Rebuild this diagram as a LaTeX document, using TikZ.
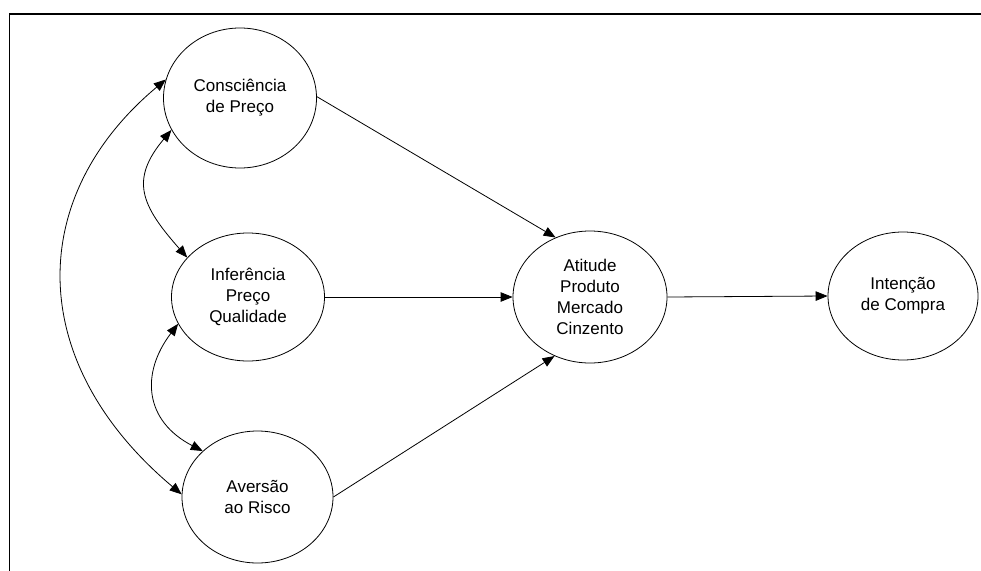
\documentclass[tikz,border=0pt]{standalone}
\usepackage{fontspec}
\setmainfont{Liberation Sans}
\usetikzlibrary{shapes.geometric,arrows.meta}
\begin{document}
\begin{tikzpicture}[x=1pt,y=-1pt,
  construct/.style={draw, line width=0.8pt, ellipse, inner sep=0pt,
    minimum width=153pt, minimum height=132pt, align=center,
    font=\fontsize{17}{21}\selectfont},
  conn/.style={line width=0.8pt, -{Triangle[length=12pt,width=9.5pt]}},
  biconn/.style={line width=0.8pt, {Triangle[length=12pt,width=9.5pt]}-{Triangle[length=12pt,width=9.5pt]}}]
\useasboundingbox (0,0) rectangle (981,570);
\clip (0,0) rectangle (981,570);
\draw[line width=1.6pt] (985,14) -- (9.5,14) -- (9.5,575);
\node[construct, minimum height=140pt] (cp) at (240,98) {Consciência\\de Preço};
\node[construct, minimum height=128pt] (ipq) at (248,297) {Inferência\\Preço\\Qualidade};
\node[construct, minimum width=151pt] (ar) at (257.5,497) {Aversão\\ao Risco};
\node[construct, minimum width=154pt] (apm) at (590,297) {Atitude\\Produto\\Mercado\\Cinzento};
\node[construct, minimum width=150pt, minimum height=128pt] (ic) at (903,296) {Intenção\\de Compra};
\draw[conn] (cp.1) -- (apm.120);
\draw[conn] (ipq.east) -- (apm.west);
\draw[conn] (ar.0) -- (apm.239);
\draw[conn] (apm.east) -- (ic.west);
\draw[biconn] (cp.205) .. controls +(-42,50) and +(-46,-52) .. (ipq.147);
\draw[biconn] (ipq.201) .. controls +(-38,50) and +(-58,-30) .. (ar.140);
\draw[biconn] (cp.166) .. controls +(-140,117) and +(-157,-132) .. (ar.178);
\end{tikzpicture}
\end{document}
